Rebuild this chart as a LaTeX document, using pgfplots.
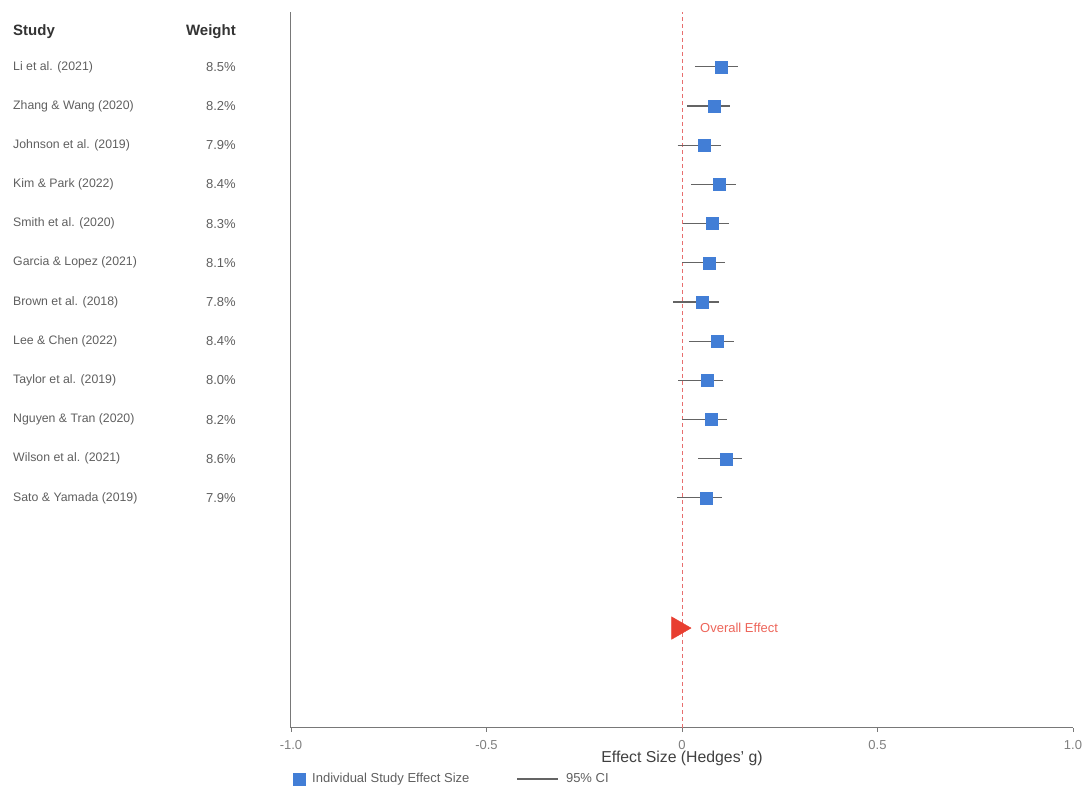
\documentclass[border=0pt]{standalone}
\usepackage{pgfplots}
\pgfplotsset{compat=1.18}
\usepackage{fontspec}
\setmainfont{Liberation Sans}
\definecolor{sqblue}{RGB}{66,126,214}
\definecolor{ovred}{RGB}{232,62,48}
\definecolor{refred}{RGB}{232,110,110}
\definecolor{txtgray}{RGB}{95,95,95}
\definecolor{axgray}{RGB}{120,120,120}
\definecolor{cigray}{RGB}{100,100,100}
\pgfplotsset{
  sqlegend/.style={legend image code/.code={\path[draw=none] (0pt,0pt) -- (19pt,0pt);\draw[mark repeat=2,mark phase=2,##1] plot coordinates {(0pt,0pt) (8.5pt,0pt) (17pt,0pt)};}},
  cilegend/.style={legend image code/.code={\path[draw=none] (0pt,0pt) -- (47pt,0pt);\draw[##1] (0pt,0pt) -- (41pt,0pt);}},
}
\begin{document}
\begin{tikzpicture}[x=1pt,y=1pt,
  tbl/.style={anchor=west, inner sep=0pt, font=\fontsize{12.3}{14}\selectfont, text=txtgray},
  wtl/.style={anchor=east, inner sep=0pt, font=\fontsize{13}{15}\selectfont, text=txtgray}]
\useasboundingbox (0,0) rectangle (1085,789);
\begin{axis}[
  at={(291pt,61pt)}, anchor=south west,
  scale only axis, width=782pt, height=716pt,
  xmin=-1, xmax=1, ymin=-4.87, ymax=13.40,
  axis lines*=left,
  axis line style={axgray, line width=1pt},
  ytick=\empty,
  xtick={-1,-0.5,0,0.5,1},
  xticklabels={-1.0,-0.5,0,0.5,1.0},
  tick align=outside, major tick length=4pt,
  tick style={axgray, line width=0.8pt},
  xticklabel style={font=\fontsize{13}{15}\selectfont, text=txtgray!80, yshift=-5pt},
  xlabel={Effect Size (Hedges' g)},
  xlabel style={at={(axis description cs:0.5,-0.043)}, anchor=center, font=\fontsize{15.8}{18}\selectfont, text=black!75},
  clip=false,
  legend columns=2,
  legend cell align=left,
  legend style={at={(axis description cs:0,-0.0712)}, anchor=west, draw=none, fill=none,
    inner xsep=0pt, inner ysep=0pt, font=\fontsize{13}{15}\selectfont, text=txtgray,
    /tikz/every even column/.append style={column sep=45pt}},
]
% reference line at zero
\addplot[refred, dashed, line width=0.9pt, dash pattern=on 4pt off 3pt, forget plot] coordinates {(0,-4.87) (0,13.40)};
% confidence intervals
\addplot[cigray, line width=1.1pt, forget plot] coordinates {(0.033,12) (0.143,12)};
\addplot[cigray, line width=1.1pt, forget plot] coordinates {(0.013,11) (0.123,11)};
\addplot[cigray, line width=1.1pt, forget plot] coordinates {(-0.011,10) (0.099,10)};
\addplot[cigray, line width=1.1pt, forget plot] coordinates {(0.023,9) (0.138,9)};
\addplot[cigray, line width=1.1pt, forget plot] coordinates {(0.003,8) (0.120,8)};
\addplot[cigray, line width=1.1pt, forget plot] coordinates {(0.000,7) (0.110,7)};
\addplot[cigray, line width=1.1pt, forget plot] coordinates {(-0.023,6) (0.095,6)};
\addplot[cigray, line width=1.1pt, forget plot] coordinates {(0.018,5) (0.133,5)};
\addplot[cigray, line width=1.1pt, forget plot] coordinates {(-0.010,4) (0.105,4)};
\addplot[cigray, line width=1.1pt, forget plot] coordinates {(0.000,3) (0.115,3)};
\addplot[cigray, line width=1.1pt, forget plot] coordinates {(0.041,2) (0.153,2)};
\addplot[cigray, line width=1.1pt, forget plot] coordinates {(-0.013,1) (0.102,1)};
% point estimates
\addplot[only marks, mark=square*, mark size=6pt, mark options={draw=sqblue, fill=sqblue}, sqlegend]
  coordinates {
  (0.100,12) (0.082,11) (0.056,10) (0.095,9) (0.077,8) (0.069,7)
  (0.051,6) (0.089,5) (0.064,4) (0.074,3) (0.112,2) (0.061,1)};
\addlegendentry{Individual Study Effect Size}
\addlegendimage{cigray, line width=1.1pt, cilegend}
\addlegendentry{95\% CI}
% overall effect
\addplot[only marks, mark=triangle*, mark size=13pt, mark options={rotate=-90, draw=ovred, fill=ovred}, forget plot]
  coordinates {(-0.010,-2.32)};
\node[anchor=west, inner sep=0pt, text=ovred!80!white, font=\fontsize{13}{15}\selectfont] at (axis cs:0.046,-2.32) {Overall Effect};
% table
\node[anchor=west, inner sep=0pt, font=\bfseries\fontsize{15}{17}\selectfont, text=black!80] at (axis cs:-1.711,12.9) {Study};
\node[anchor=east, inner sep=0pt, font=\bfseries\fontsize{15}{17}\selectfont, text=black!80] at (axis cs:-1.1407,12.9) {Weight};
\node[tbl] at (axis cs:-1.711,12) {Li et al. (2021)};
\node[tbl] at (axis cs:-1.711,11) {Zhang \& Wang (2020)};
\node[tbl] at (axis cs:-1.711,10) {Johnson et al. (2019)};
\node[tbl] at (axis cs:-1.711,9) {Kim \& Park (2022)};
\node[tbl] at (axis cs:-1.711,8) {Smith et al. (2020)};
\node[tbl] at (axis cs:-1.711,7) {Garcia \& Lopez (2021)};
\node[tbl] at (axis cs:-1.711,6) {Brown et al. (2018)};
\node[tbl] at (axis cs:-1.711,5) {Lee \& Chen (2022)};
\node[tbl] at (axis cs:-1.711,4) {Taylor et al. (2019)};
\node[tbl] at (axis cs:-1.711,3) {Nguyen \& Tran (2020)};
\node[tbl] at (axis cs:-1.711,2) {Wilson et al. (2021)};
\node[tbl] at (axis cs:-1.711,1) {Sato \& Yamada (2019)};
\node[wtl] at (axis cs:-1.1407,12) {8.5\%};
\node[wtl] at (axis cs:-1.1407,11) {8.2\%};
\node[wtl] at (axis cs:-1.1407,10) {7.9\%};
\node[wtl] at (axis cs:-1.1407,9) {8.4\%};
\node[wtl] at (axis cs:-1.1407,8) {8.3\%};
\node[wtl] at (axis cs:-1.1407,7) {8.1\%};
\node[wtl] at (axis cs:-1.1407,6) {7.8\%};
\node[wtl] at (axis cs:-1.1407,5) {8.4\%};
\node[wtl] at (axis cs:-1.1407,4) {8.0\%};
\node[wtl] at (axis cs:-1.1407,3) {8.2\%};
\node[wtl] at (axis cs:-1.1407,2) {8.6\%};
\node[wtl] at (axis cs:-1.1407,1) {7.9\%};
\end{axis}
\end{tikzpicture}
\end{document}
